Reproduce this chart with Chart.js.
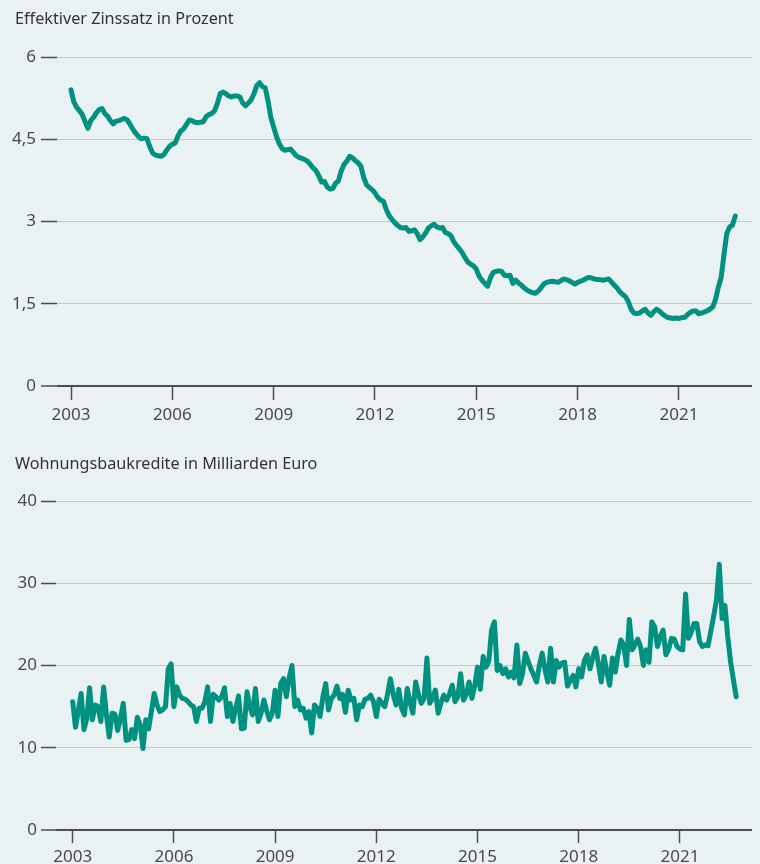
<!DOCTYPE html>
<html>
<head>
<meta charset="utf-8">
<script src="https://cdn.jsdelivr.net/npm/chart.js@4.4.1/dist/chart.umd.min.js"></script>
<style>
  html, body { margin: 0; padding: 0; background: #e9f1f2; }
  #wrap { position: relative; width: 760px; height: 864px; overflow: hidden; }
  .box { position: absolute; left: 0; width: 760px; height: 432px; z-index: 1; }
  .title { position: absolute; left: 15px; z-index: 2; font: 16.2px "Noto Sans", sans-serif; line-height: 16px; color: #333; white-space: nowrap; }
</style>
</head>
<body>
<div id="wrap">
  <div class="box" style="top:0"><canvas id="zins"></canvas></div>
  <div class="box" style="top:432px"><canvas id="kredite"></canvas></div>
  <div class="title" style="top:10px">Effektiver Zinssatz in Prozent</div>
  <div class="title" style="top:455px">Wohnungsbaukredite in Milliarden Euro</div>
</div>
<script>
// monthly values, Jan 2003 .. Sep 2022
const startYear = 2003
const yearTicks = [2003, 2006, 2009, 2012, 2015, 2018, 2021]

const zinsTicks = [0, 1.5, 3, 4.5, 6]
const zinssatz = [
  5.40, 5.18, 5.08, 5.02, 4.95, 4.82, 4.70, 4.84, 4.90, 4.98, 5.04, 5.06,
  4.97, 4.92, 4.84, 4.78, 4.83, 4.84, 4.86, 4.88, 4.85, 4.77, 4.68, 4.61,
  4.55, 4.51, 4.52, 4.51, 4.36, 4.25, 4.21, 4.20, 4.19, 4.22, 4.30, 4.37,
  4.41, 4.43, 4.56, 4.65, 4.69, 4.77, 4.85, 4.84, 4.81, 4.80, 4.81, 4.82,
  4.91, 4.95, 4.97, 5.02, 5.15, 5.33, 5.36, 5.33, 5.29, 5.27, 5.29, 5.29,
  5.27, 5.16, 5.11, 5.16, 5.22, 5.33, 5.48, 5.53, 5.46, 5.44, 5.20, 4.90,
  4.72, 4.55, 4.42, 4.33, 4.30, 4.31, 4.32, 4.26, 4.20, 4.17, 4.15, 4.13,
  4.10, 4.04, 3.98, 3.93, 3.84, 3.72, 3.73, 3.63, 3.59, 3.60, 3.70, 3.74,
  3.92, 4.04, 4.10, 4.19, 4.16, 4.11, 4.07, 4.01, 3.80, 3.67, 3.62, 3.58,
  3.52, 3.44, 3.39, 3.37, 3.22, 3.11, 3.04, 2.98, 2.93, 2.89, 2.88, 2.89,
  2.82, 2.83, 2.85, 2.78, 2.67, 2.72, 2.79, 2.88, 2.92, 2.95, 2.90, 2.88,
  2.89, 2.80, 2.78, 2.74, 2.63, 2.56, 2.50, 2.43, 2.34, 2.26, 2.22, 2.19,
  2.13, 2.00, 1.93, 1.87, 1.82, 1.97, 2.07, 2.09, 2.10, 2.09, 2.02, 2.01,
  2.02, 1.87, 1.93, 1.88, 1.84, 1.79, 1.75, 1.72, 1.70, 1.69, 1.73, 1.79,
  1.86, 1.89, 1.90, 1.91, 1.90, 1.89, 1.92, 1.95, 1.94, 1.92, 1.89, 1.86,
  1.89, 1.91, 1.93, 1.96, 1.98, 1.97, 1.95, 1.94, 1.94, 1.93, 1.94, 1.95,
  1.90, 1.84, 1.79, 1.72, 1.67, 1.63, 1.54, 1.40, 1.33, 1.32, 1.33, 1.37,
  1.40, 1.33, 1.29, 1.35, 1.40, 1.37, 1.32, 1.28, 1.25, 1.24, 1.23, 1.24,
  1.23, 1.25, 1.25, 1.30, 1.34, 1.37, 1.37, 1.32, 1.33, 1.35, 1.37, 1.40,
  1.44, 1.58, 1.80, 1.98, 2.40, 2.78, 2.90, 2.93, 3.10
]

const kreditTicks = [0, 10, 20, 30, 40]
const kredite = [
  15.6, 12.5, 14.5, 16.6, 12.2, 13.5, 17.3, 13.4, 15.2, 15.0, 13.2, 17.4,
  14.0, 11.3, 14.2, 14.1, 12.1, 13.6, 15.4, 10.9, 11.0, 12.2, 11.1, 13.7,
  12.8, 9.9, 13.4, 12.3, 14.4, 16.6, 15.2, 14.4, 14.6, 15.0, 19.6, 20.2,
  15.0, 17.4, 16.4, 16.0, 15.9, 15.6, 15.2, 15.0, 13.2, 14.8, 14.8, 15.6,
  17.4, 13.2, 16.5, 16.2, 15.8, 16.2, 17.3, 13.8, 15.4, 13.2, 14.8, 16.3,
  12.3, 12.4, 16.8, 15.0, 14.0, 17.2, 13.2, 14.2, 15.8, 14.5, 13.4, 14.2,
  17.0, 13.8, 17.8, 18.4, 16.2, 18.5, 20.0, 15.0, 15.8, 14.6, 14.8, 13.6,
  14.4, 11.8, 15.2, 14.8, 13.8, 16.2, 17.8, 14.6, 16.0, 16.4, 17.5, 16.0,
  16.5, 14.3, 17.0, 15.8, 16.0, 13.4, 15.2, 15.0, 15.9, 16.0, 16.4, 15.6,
  13.8, 15.9, 15.4, 15.0, 16.5, 18.4, 16.5, 15.2, 17.1, 14.8, 14.0, 17.2,
  15.5, 14.2, 18.0, 16.5, 15.4, 16.0, 20.9, 15.4, 16.0, 17.0, 14.2, 15.5,
  16.4, 15.8, 16.5, 17.6, 15.6, 16.2, 19.0, 15.8, 16.5, 18.0, 16.0, 17.5,
  19.8, 17.1, 21.1, 19.8, 20.5, 24.3, 25.3, 19.4, 20.0, 19.0, 19.6, 18.6,
  19.2, 18.5, 22.5, 17.8, 19.0, 21.5, 20.5, 19.6, 18.8, 18.0, 20.0, 21.5,
  19.5, 18.0, 22.1, 18.0, 20.6, 19.8, 20.3, 20.4, 17.5, 18.2, 18.8, 17.4,
  19.6, 18.6, 20.6, 21.3, 19.6, 21.0, 22.1, 20.2, 18.0, 21.1, 19.2, 17.6,
  20.9, 19.2, 21.5, 23.1, 22.5, 20.0, 25.6, 21.9, 22.5, 23.2, 22.3, 20.0,
  21.9, 20.4, 25.3, 24.7, 22.3, 23.5, 24.3, 21.3, 22.0, 23.3, 23.2, 22.3,
  22.0, 21.9, 28.7, 23.3, 24.0, 25.1, 25.1, 22.9, 22.3, 22.5, 22.4, 24.2,
  26.0, 28.0, 32.3, 25.7, 27.3, 23.5, 20.5, 18.3, 16.2
]

const lineColor = '#009180'
const gridColor = '#c5cacc'
const axisColor = '#4d4d4d'
const labelColor = '#4a4a4a'
const tickFont = { family: '"Noto Sans", sans-serif', size: 17 }

function makeChart(id, values, yTicks, opt) {
  let points = values.map((v, i) => ({ x: startYear + i / 12, y: v }))

  return new Chart(document.getElementById(id), {
    type: 'line',
    data: {
      datasets: [{
        data: points,
        borderColor: lineColor,
        borderWidth: 5,
        pointRadius: 0,
        tension: 0,
        borderJoinStyle: 'round',
        borderCapStyle: 'round'
      }]
    },
    options: {
      responsive: true,
      maintainAspectRatio: false,
      animation: false,
      layout: { padding: { top: opt.top, right: 8, bottom: 0, left: 0 } },
      plugins: { legend: { display: false }, tooltip: { enabled: false } },
      scales: {
        x: {
          type: 'linear',
          min: opt.xMin,
          max: opt.xMax,
          afterBuildTicks: s => { s.ticks = yearTicks.map(v => ({ value: v })) },
          afterFit: s => { s.height = opt.xHeight },
          grid: { drawOnChartArea: false, drawTicks: true, tickLength: opt.xTickLen, tickColor: axisColor, tickWidth: 1.5 },
          border: { display: false },
          ticks: { color: labelColor, font: tickFont, padding: opt.xPad, maxRotation: 0, autoSkip: false, callback: v => String(v) }
        },
        y: {
          min: 0,
          max: yTicks[yTicks.length - 1],
          afterBuildTicks: s => { s.ticks = yTicks.map(v => ({ value: v })) },
          afterFit: s => { s.width = opt.yWidth },
          grid: {
            color: c => c.tick.value === 0 ? axisColor : gridColor,
            lineWidth: c => c.tick.value === 0 ? 2 : 1,
            tickLength: opt.yTickLen,
            tickColor: axisColor,
            tickWidth: 1.5
          },
          border: { display: false },
          ticks: { color: labelColor, font: tickFont, padding: opt.yPad, callback: v => String(v).replace('.', ',') }
        }
      }
    }
  })
}

makeChart('zins', zinssatz, zinsTicks, {
  top: 57, xHeight: 46, yWidth: 57, yTickLen: 16, yPad: 5, xTickLen: 14, xPad: 5,
  xMin: 2002.585, xMax: 2023.163
})

makeChart('kredite', kredite, kreditTicks, {
  top: 69, xHeight: 34, yWidth: 56, yTickLen: 15, yPad: 4, xTickLen: 13, xPad: 4,
  xMin: 2002.505, xMax: 2023.136
})
</script>
</body>
</html>
